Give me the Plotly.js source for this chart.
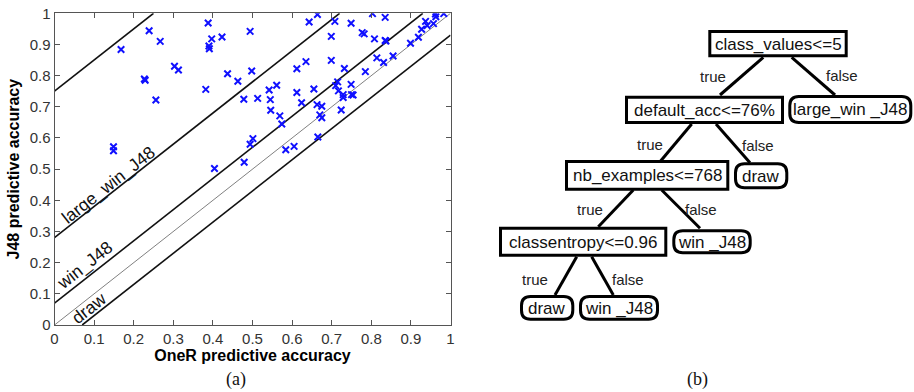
<!DOCTYPE html>
<html>
<head>
<meta charset="utf-8">
<script src="https://cdn.plot.ly/plotly-3.0.1.min.js"></script>
<style>
html,body{margin:0;padding:0;background:#fff;}
#chart{width:914px;height:392px;}
</style>
</head>
<body>
<div id="chart"></div>
<script>
// ---------- data: scatter (OneR accuracy vs J48 accuracy) ----------
const oneR = [0.149,0.149,0.168,0.227,0.229,0.239,0.256,0.267,0.303,0.313,
  0.382,0.388,0.390,0.391,0.397,0.404,0.423,0.437,0.463,0.478,
  0.479,0.494,0.494,0.498,0.501,0.513,0.542,0.545,0.546,0.561,
  0.569,0.574,0.584,0.605,0.612,0.612,0.624,0.635,0.643,0.655,
  0.663,0.664,0.665,0.670,0.675,0.675,0.699,0.699,0.708,0.710,
  0.715,0.717,0.724,0.729,0.729,0.732,0.749,0.749,0.750,0.754,
  0.777,0.782,0.785,0.803,0.808,0.814,0.831,0.835,0.835,0.837,
  0.855,0.899,0.919,0.927,0.937,0.941,0.957,0.962,0.963,0.983];
const j48 = [0.572,0.559,0.884,0.789,0.785,0.944,0.722,0.910,0.830,0.818,
  0.756,0.969,0.895,0.886,0.918,0.502,0.924,0.806,0.782,0.724,
  0.522,0.942,0.580,0.815,0.598,0.727,0.754,0.723,0.689,0.769,
  0.671,0.645,0.562,0.573,0.822,0.746,0.713,0.845,0.972,0.757,
  0.707,0.996,0.603,0.674,0.702,0.665,0.926,0.849,0.974,0.768,
  0.780,0.751,0.690,0.739,0.730,0.823,0.968,0.772,0.739,0.738,
  0.938,0.934,0.813,0.999,0.918,0.857,0.842,0.987,0.913,0.911,
  0.863,0.904,0.923,0.949,0.974,0.961,0.967,0.998,0.989,0.999];

// boundary lines y = x + offset
const lineOffsets = [0.75, 0.28, 0.07, 0.0, -0.07];
const lineIsDiagonal = [false, false, false, true, false];

// region labels
const regionLabels = ['large_win_J48', 'win_J48', 'draw'];
const regionLabelX = [0.136, 0.077, 0.088];
const regionLabelY = [0.449, 0.192, 0.0535];

const tickVals = [0,0.1,0.2,0.3,0.4,0.5,0.6,0.7,0.8,0.9,1];
const tickText = ['0','0.1','0.2','0.3','0.4','0.5','0.6','0.7','0.8','0.9','1'];

// ---------- data: decision tree ----------
const nodeLabels = ['class_values<=5','default_acc<=76%','large_win _J48','nb_examples<=768','draw',
                    'classentropy<=0.96','win _J48','draw','win _J48'];
const nodeKinds  = ['test','test','leaf','test','leaf','test','leaf','leaf','leaf'];
const nodeParent = [-1,0,0,1,1,3,3,5,5];
const edgeLabels = ['','true','false','true','false','true','false','true','false'];

// ---------- layout config for the tree (pixel positions in the 914x392 figure) ----------
const W = 914, H = 392;
const treeBoxes = [
  [708.3,30,847.7,57.3],[625,95.7,784,124],[788.3,95,912.3,124],
  [565,160,729.3,190.7],[734,162.3,788.3,189.3],[499,226.7,667.3,256.7],
  [672.3,229.3,751.7,254.3],[520,295,574.3,320.7],[579,295,659,320.7]];
const treeEdges = [null,
  [763.3,57.3,720,95],[791.7,57.3,835,95],
  [691.7,124,660,161.7],[716,124,750,162.7],
  [633.3,190,598.3,226.7],[661.7,190,700,228.3],
  [576.7,256.7,555,295],[591.7,256.7,613.3,295]];
const edgeLabelPos = [null,[713.3,76],[841.7,75],[650,144],[757.7,145],[590,209],[701,209],[535,279.3],[627.7,279.3]];

const px = v => v / W;
const py = v => 1 - v / H;

// ---------- build scatter traces ----------
const traces = [];
lineOffsets.forEach((c, i) => {
  const x0 = Math.max(0, -c), x1 = Math.min(1, 1 - c);
  traces.push({
    x: [x0, x1], y: [x0 + c, x1 + c], mode: 'lines', type: 'scatter',
    hoverinfo: 'skip', showlegend: false, cliponaxis: true,
    line: lineIsDiagonal[i] ? {color: '#808080', width: 1} : {color: '#111', width: 1.6}
  });
});
traces.push({
  x: oneR, y: j48, mode: 'markers', type: 'scatter', showlegend: false,
  marker: {symbol: 'x-thin', size: 6.5, color: '#1010ff', line: {width: 2, color: '#1010ff'}}
});

// ---------- shapes & annotations ----------
const shapes = [];
const annotations = [];

function roundRectPath(x0, y0, x1, y1, r) {
  const X = v => px(v).toFixed(5), Y = v => py(v).toFixed(5);
  return 'M' + X(x0 + r) + ',' + Y(y0) +
    ' L' + X(x1 - r) + ',' + Y(y0) + ' Q' + X(x1) + ',' + Y(y0) + ' ' + X(x1) + ',' + Y(y0 + r) +
    ' L' + X(x1) + ',' + Y(y1 - r) + ' Q' + X(x1) + ',' + Y(y1) + ' ' + X(x1 - r) + ',' + Y(y1) +
    ' L' + X(x0 + r) + ',' + Y(y1) + ' Q' + X(x0) + ',' + Y(y1) + ' ' + X(x0) + ',' + Y(y1 - r) +
    ' L' + X(x0) + ',' + Y(y0 + r) + ' Q' + X(x0) + ',' + Y(y0) + ' ' + X(x0 + r) + ',' + Y(y0) + ' Z';
}

nodeLabels.forEach((lab, i) => {
  const b = treeBoxes[i];
  const inset = 1.5;
  const x0 = b[0] + inset, y0 = b[1] + inset, x1 = b[2] - inset, y1 = b[3] - inset;
  if (nodeKinds[i] === 'test') {
    shapes.push({type: 'rect', xref: 'paper', yref: 'paper',
      x0: px(x0), x1: px(x1), y0: py(y1), y1: py(y0),
      line: {color: '#000', width: 3}, fillcolor: '#fff', layer: 'above'});
  } else {
    shapes.push({type: 'path', xref: 'paper', yref: 'paper',
      path: roundRectPath(x0, y0, x1, y1, 9),
      line: {color: '#000', width: 3}, fillcolor: '#fff', layer: 'above'});
  }
  annotations.push({xref: 'paper', yref: 'paper', x: px((b[0] + b[2]) / 2), y: py((b[1] + b[3]) / 2 + 0.5),
    text: lab, showarrow: false, xanchor: 'center', yanchor: 'middle',
    font: {family: 'Liberation Sans, Arial, sans-serif', size: 17, color: '#111'}});
  if (nodeParent[i] >= 0) {
    const e = treeEdges[i];
    shapes.push({type: 'line', xref: 'paper', yref: 'paper',
      x0: px(e[0]), y0: py(e[1]), x1: px(e[2]), y1: py(e[3]),
      line: {color: '#000', width: 3}, layer: 'below'});
    const lp = edgeLabelPos[i];
    annotations.push({xref: 'paper', yref: 'paper', x: px(lp[0]), y: py(lp[1]),
      text: edgeLabels[i], showarrow: false, xanchor: 'center', yanchor: 'middle',
      font: {family: 'Liberation Sans, Arial, sans-serif', size: 15, color: '#222'}});
  }
});

// region labels along the lines
const angle = -Math.atan((325 - 13.3) / 396) * 180 / Math.PI;
regionLabels.forEach((t, i) => {
  annotations.push({xref: 'x', yref: 'y', x: regionLabelX[i], y: regionLabelY[i], text: t,
    showarrow: false, textangle: angle, xanchor: 'center', yanchor: 'middle',
    font: {family: 'Liberation Sans, Arial, sans-serif', size: 17.5, color: '#111'}});
});

// panel captions
annotations.push({xref: 'paper', yref: 'paper', x: px(236), y: py(379.5), text: '(a)', showarrow: false,
  xanchor: 'center', yanchor: 'middle',
  font: {family: 'Liberation Serif, Times New Roman, serif', size: 18, color: '#111'}});
annotations.push({xref: 'paper', yref: 'paper', x: px(697.5), y: py(379), text: '(b)', showarrow: false,
  xanchor: 'center', yanchor: 'middle',
  font: {family: 'Liberation Serif, Times New Roman, serif', size: 18, color: '#111'}});

const axisCommon = {
  range: [0, 1], tickmode: 'array', tickvals: tickVals, ticktext: tickText,
  ticks: 'inside', ticklen: 5, tickcolor: '#555', tickwidth: 1,
  showline: true, linecolor: '#555', linewidth: 1, mirror: 'ticks',
  showgrid: false, zeroline: false, fixedrange: true,
  tickfont: {family: 'Liberation Sans, Arial, sans-serif', size: 15, color: '#333'}
};

const layout = {
  width: W, height: H,
  margin: {l: 0, r: 0, t: 0, b: 0, pad: 0},
  paper_bgcolor: '#fff', plot_bgcolor: 'rgba(0,0,0,0)',
  showlegend: false,
  xaxis: Object.assign({}, axisCommon, {
    domain: [54.5 / W, 450.5 / W], automargin: false,
    title: {text: 'OneR predictive accuracy', standoff: 2,
      font: {family: 'Liberation Sans, Arial, sans-serif', size: 16, color: '#000', weight: 'bold'}}
  }),
  yaxis: Object.assign({}, axisCommon, {
    domain: [(H - 325) / H, (H - 13.3) / H], automargin: false,
    title: {text: 'J48 predictive accuracy', standoff: 6,
      font: {family: 'Liberation Sans, Arial, sans-serif', size: 16, color: '#000', weight: 'bold'}}
  }),
  shapes: shapes,
  annotations: annotations
};

Plotly.newPlot('chart', traces, layout, {staticPlot: true, displayModeBar: false});
</script>
</body>
</html>
